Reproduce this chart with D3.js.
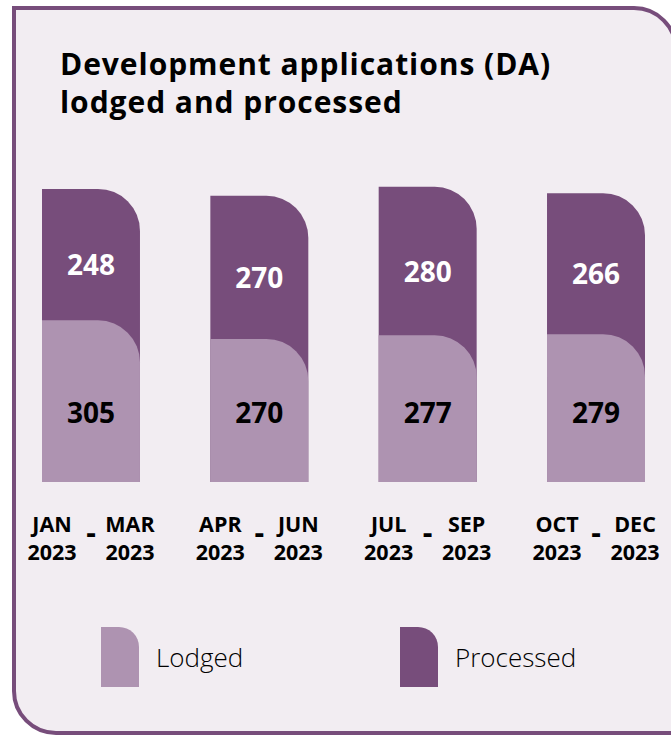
<!DOCTYPE html>
<html>
<head>
<meta charset="utf-8">
<script src="https://cdn.jsdelivr.net/npm/d3@7"></script>
<style>
  html, body { margin: 0; padding: 0; background: #ffffff; }
  svg { display: block; font-family: "Open Sans", sans-serif; }
</style>
</head>
<body>
<svg id="chart" width="671" height="735"></svg>
<script>
// ---- data ----
const quarters = ["Jan-Mar 2023", "Apr-Jun 2023", "Jul-Sep 2023", "Oct-Dec 2023"];
const startLabels = ["JAN", "APR", "JUL", "OCT"];
const endLabels = ["MAR", "JUN", "SEP", "DEC"];
const yearLabels = ["2023", "2023", "2023", "2023"];
const lodged = [305, 270, 277, 279];
const processed = [248, 270, 280, 266];
const seriesNames = ["Lodged", "Processed"];
const seriesColors = ["#ae93b1", "#774d7b"];

const titleLines = ["Development applications (DA)", "lodged and processed"];

// ---- layout ----
const svg = d3.select("#chart");

// card
svg.append("path")
  .attr("d", (() => {
    const x0 = 14, y0 = 8, x1 = 676, y1 = 733, r = 42;
    return `M${x0},${y0} H${x1 - r} A${r},${r} 0 0 1 ${x1},${y0 + r} V${y1} H${x0 + r} A${r},${r} 0 0 1 ${x0},${y1 - r} Z`;
  })())
  .attr("fill", "#f2edf2")
  .attr("stroke", "#774d7b")
  .attr("stroke-width", 4);

// title
svg.append("g").selectAll("text").data(titleLines).join("text")
  .attr("x", 60)
  .attr("y", (d, i) => 75 + i * 38)
  .attr("font-size", 30)
  .attr("font-weight", 700)
  .attr("letter-spacing", 0.95)
  .attr("fill", "#000")
  .text(d => d);

// scales
const baseline = 482;
const x = d3.scaleBand().domain(quarters).range([42, 645]).paddingInner(0.418).paddingOuter(0);
const y = d3.scaleLinear().domain([0, 600]).range([baseline, baseline - 318]);

const bw = x.bandwidth();
const R = 42;
function barPath(x0, yTop, yBottom, w, r) {
  const rr = Math.min(r, yBottom - yTop, w);
  return `M${x0},${yBottom} V${yTop} H${x0 + w - rr} A${rr},${rr} 0 0 1 ${x0 + w},${yTop + rr} V${yBottom} Z`;
}

const rows = quarters.map((q, i) => ({ q, i, lodged: lodged[i], processed: processed[i] }));
const stack = d3.stack().keys(["lodged", "processed"])(rows);

const gBars = svg.append("g");
// processed (full stack height, drawn first)
gBars.selectAll("path.proc").data(stack[1]).join("path")
  .attr("class", "proc")
  .attr("d", (d, i) => barPath(x(quarters[i]), y(d[1]), y(0), bw, R))
  .attr("fill", seriesColors[1]);
// lodged on top
gBars.selectAll("path.lodg").data(stack[0]).join("path")
  .attr("class", "lodg")
  .attr("d", (d, i) => barPath(x(quarters[i]), y(d[1]), y(0), bw, R))
  .attr("fill", seriesColors[0]);

// value labels
svg.append("g").selectAll("text").data(stack[1]).join("text")
  .attr("x", (d, i) => x(quarters[i]) + bw / 2)
  .attr("y", d => (y(d[0]) + y(d[1])) / 2 + 11)
  .attr("dy", "0.35em")
  .attr("text-anchor", "middle")
  .attr("font-size", 28)
  .attr("font-weight", 700)
  .attr("fill", "#ffffff")
  .text((d, i) => processed[i]);

svg.append("g").selectAll("text").data(stack[0]).join("text")
  .attr("x", (d, i) => x(quarters[i]) + bw / 2)
  .attr("y", baseline - 69)
  .attr("dy", "0.35em")
  .attr("text-anchor", "middle")
  .attr("font-size", 28)
  .attr("font-weight", 700)
  .attr("fill", "#000000")
  .text((d, i) => lodged[i]);

// category labels
const gCat = svg.append("g").attr("font-weight", 700).attr("font-size", 21.5).attr("fill", "#000").attr("text-anchor", "middle");
quarters.forEach((q, i) => {
  const cx = x(q) + bw / 2;
  gCat.append("text").attr("x", cx - 39).attr("y", 532).text(startLabels[i]);
  gCat.append("text").attr("x", cx + 39).attr("y", 532).text(endLabels[i]);
  gCat.append("text").attr("x", cx - 39).attr("y", 560).text(yearLabels[i]);
  gCat.append("text").attr("x", cx + 39).attr("y", 560).text(yearLabels[i]);
  gCat.append("text").attr("x", cx).attr("y", 543).attr("font-size", 30).text("-");
});

// legend
const legX = [101, 400];
const gLeg = svg.append("g");
seriesNames.forEach((name, i) => {
  gLeg.append("path")
    .attr("d", barPath(legX[i], 627, 687, 38, 20))
    .attr("fill", seriesColors[i]);
  gLeg.append("text")
    .attr("x", legX[i] + 55)
    .attr("y", 667)
    .attr("font-size", 26)
    .attr("font-weight", 300)
    .attr("fill", "#000")
    .text(name);
});
</script>
</body>
</html>
